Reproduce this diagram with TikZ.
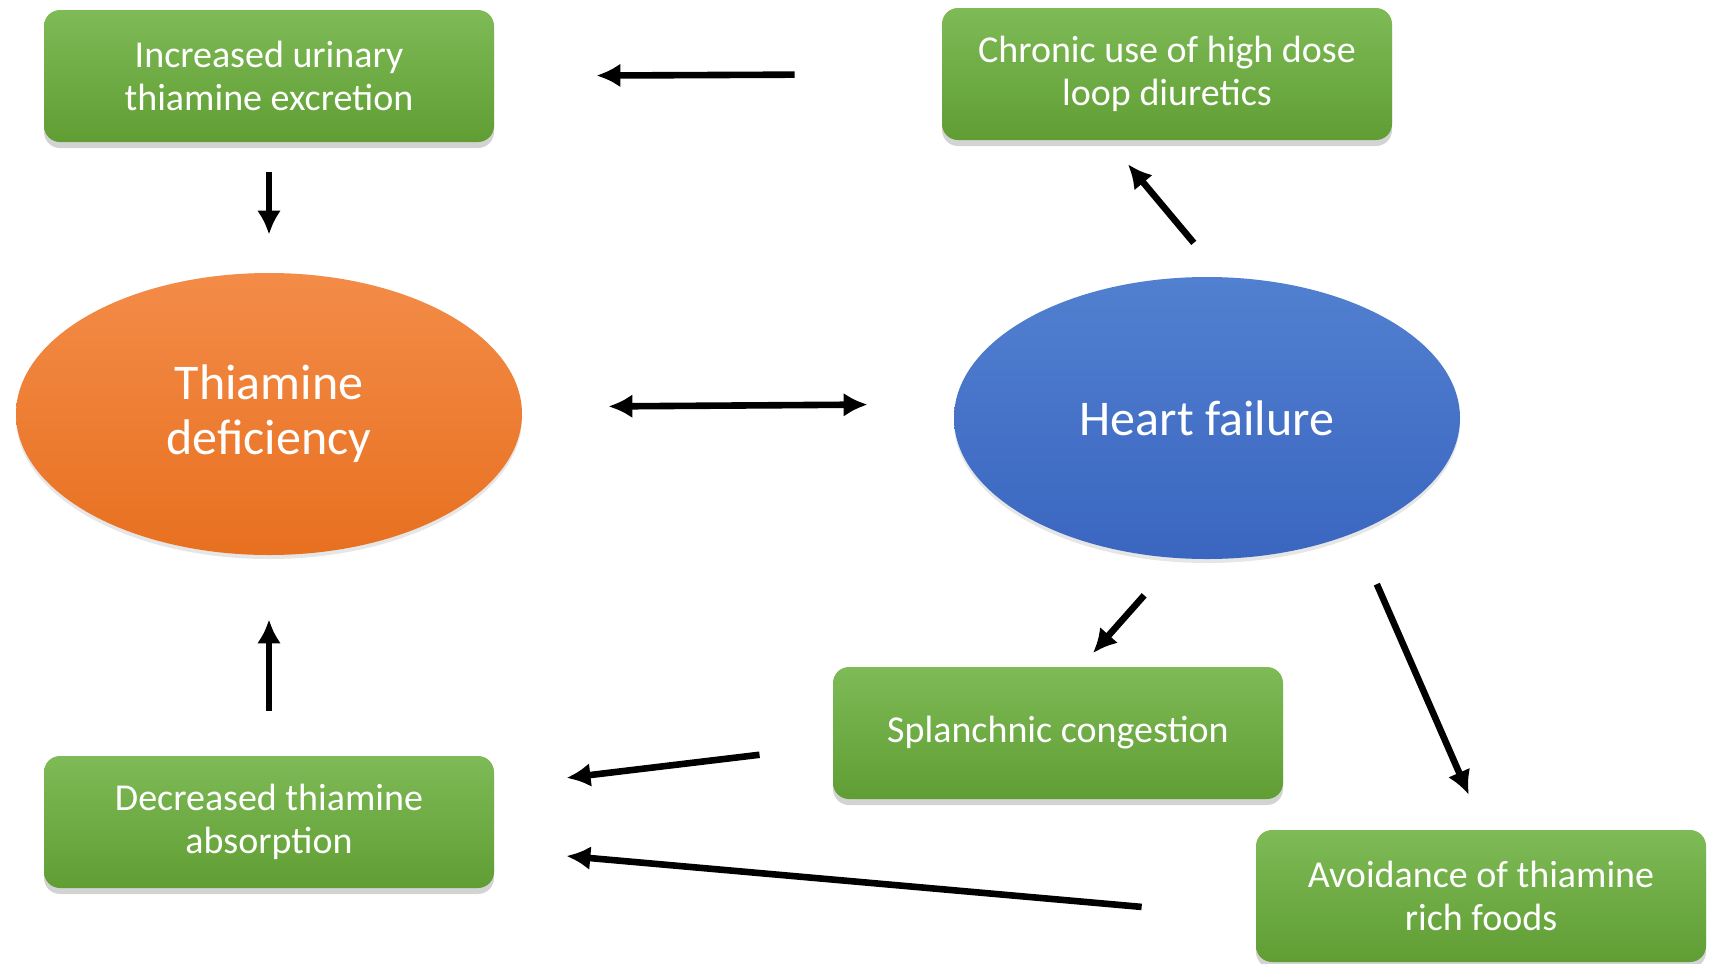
\documentclass[tikz,border=0pt]{standalone}
\usepackage{fontspec}
\setmainfont{Carlito}
\usetikzlibrary{arrows.meta,shadows,shapes.geometric}

\definecolor{greentop}{RGB}{126,186,86}
\definecolor{greenbot}{RGB}{96,158,52}
\definecolor{orangetop}{RGB}{243,140,72}
\definecolor{orangebot}{RGB}{232,112,32}
\definecolor{bluetop}{RGB}{82,128,208}
\definecolor{bluebot}{RGB}{58,102,192}

\tikzset{
  causebox/.style={rectangle, rounded corners=8pt, top color=greentop, bottom color=greenbot,
    minimum width=225pt, minimum height=66pt, text=white, align=center,
    font=\fontsize{19}{21.3}\selectfont,
    drop shadow={shadow xshift=0pt, shadow yshift=-3pt, opacity=0.35}},
  mainoval/.style={ellipse, minimum width=253pt, minimum height=141pt, text=white, align=center,
    font=\fontsize{25}{27.5}\selectfont,
    drop shadow={shadow xshift=0pt, shadow yshift=-2pt, opacity=0.2}},
  arr/.style={line width=3.3pt, -{Latex[length=12pt,width=12pt]}},
}

\begin{document}
\begin{tikzpicture}[x=0.5pt,y=0.5pt,yscale=-1,xscale=1]
\useasboundingbox (0,0) rectangle (1714,964);

% Text Node
\node[causebox] (excretion) at (269,76) {Increased urinary\\thiamine excretion};
% Text Node
\node[causebox] (diuretics) at (1167,74) {Chronic use of high dose\\loop diuretics};
% Text Node
\node[mainoval, top color=orangetop, bottom color=orangebot] (deficiency) at (269,414) {Thiamine\\deficiency};
% Text Node
\node[mainoval, top color=bluetop, bottom color=bluebot] (failure) at (1207,418) {Heart failure};
% Text Node
\node[causebox] (congestion) at (1058,733) {Splanchnic congestion};
% Text Node
\node[causebox] (absorption) at (269,822) {Decreased thiamine\\absorption};
% Text Node
\node[causebox] (avoidance) at (1481,896) {Avoidance of thiamine\\rich foods};

%Straight Lines
\draw[arr, shorten <=73.5pt, shorten >=51pt] (diuretics.west) -- (excretion.east);
%Straight Lines
\draw[arr, shorten <=15pt, shorten >=19pt] (excretion.south) -- (deficiency.north);
%Straight Lines
\draw[arr, {Latex[length=12pt,width=12pt]}-{Latex[length=12pt,width=12pt]}, shorten <=43pt, shorten >=43pt] ([yshift=-3.5pt]deficiency.east) -- ([yshift=-7pt]failure.west);
%Straight Lines
\draw[arr, shorten <=22pt, shorten >=15.5pt] ([xshift=7.5pt]failure.north) -- ([xshift=-29.5pt]diuretics.south);
%Straight Lines
\draw[arr, shorten <=24pt, shorten >=9pt] ([xshift=-15.5pt]failure.south) -- ([xshift=11.5pt]congestion.north);
%Straight Lines
\draw[arr, shorten <=13.5pt, shorten >=19pt] ([xshift=79.5pt]failure.south) -- ([xshift=1.5pt]avoidance.north);
%Straight Lines
\draw[arr, shorten <=36.8pt, shorten >=36.3pt] ([yshift=6.5pt]congestion.west) -- ([yshift=-17.75pt]absorption.east);
%Straight Lines
\draw[arr, shorten <=57.2pt, shorten >=36.1pt] ([yshift=10.5pt]avoidance.west) -- ([yshift=13.8pt]absorption.east);
%Straight Lines
\draw[arr, shorten <=22.5pt, shorten >=32pt] (absorption.north) -- (deficiency.south);

\end{tikzpicture}
\end{document}
